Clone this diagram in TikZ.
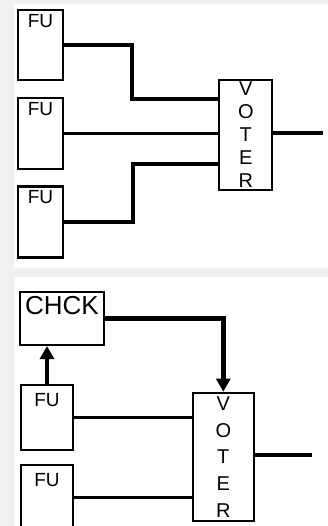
\documentclass[tikz,border=0pt]{standalone}
\usepackage{fontspec}
\setmainfont{Liberation Sans}
\usetikzlibrary{arrows.meta}
\definecolor{bggray}{RGB}{240,240,240}

\begin{document}
\begin{tikzpicture}[x=1pt, y=-1pt, >={Triangle[length=13pt,width=14pt]},
  unit/.style={draw, line width=2.2pt, fill=white, inner sep=0pt},
  fulbl/.style={anchor=north, inner sep=5pt, font=\fontsize{19}{19}\selectfont},
  vlbl/.style={anchor=north, align=center, inner sep=2.5pt, font=\fontsize{20}{23}\selectfont},
  wire/.style={line width=3.6pt},
  flow/.style={line width=4.5pt, ->}]

  % 背景とパネル
  \useasboundingbox (0,0) rectangle (328,526);
  \fill[bggray] (0,0) rectangle (328,526);
  \fill[white] (14,4) rectangle (328,268);
  \fill[white] (14,277) rectangle (328,526);

  % 上段: 3 つの FU と VOTER
  \node[unit, minimum width=45, minimum height=70, label={[fulbl]north:FU}] (fu1) at (40.5,45) {};
  \node[unit, minimum width=45, minimum height=71, label={[fulbl]north:FU}] (fu2) at (40.5,133.5) {};
  \node[unit, minimum width=45, minimum height=71, label={[fulbl]north:FU}] (fu3) at (40.5,222) {};
  \node[unit, minimum width=53, minimum height=109.5,
        label={[vlbl]north:V\\O\\T\\E\\R}] (voter1) at (245.8,135) {};

  \coordinate (in1) at ([yshift=36pt]voter1.west);
  \coordinate (in3) at ([yshift=-29pt]voter1.west);
  \coordinate (out1) at (323,133);

  % 上段の配線
  \draw[wire] (fu1.east) -- ++(68,0) |- (in1);
  \draw[wire] (fu2.east) -- (fu2.east -| voter1.west);
  \draw[wire] (fu3.east) -- ++(69,0) |- (in3);
  \draw[wire] (voter1.east |- out1) -- (out1);

  % 下段: CHCK, FU, VOTER
  \node[unit, minimum width=84, minimum height=53,
        label={[fulbl, inner sep=5.5pt, font=\fontsize{26}{26}\selectfont]north:CHCK}] (chck) at (62,318.5) {};
  \node[unit, minimum width=52, minimum height=65, label={[fulbl, inner sep=9pt]north:FU}] (fu4) at (47,417.5) {};
  \node[unit, minimum width=52, minimum height=65, label={[fulbl, inner sep=9pt]north:FU}] (fu5) at (47,497.5) {};
  \node[unit, minimum width=61, minimum height=128,
        label={[vlbl, inner sep=5pt, font=\fontsize{20}{26.7}\selectfont]north:V\\O\\T\\E\\R}] (voter2) at (223.3,456.7) {};

  \coordinate (out2) at (312,455);

  % 下段の配線と矢印
  \draw[flow] (fu4.north) -- (fu4.north |- chck.south);
  \draw[flow] (chck.east) -| (voter2.north);
  \draw[wire] (fu4.east) -- (fu4.east -| voter2.west);
  \draw[wire] (fu5.east) -- (fu5.east -| voter2.west);
  \draw[wire] (voter2.east |- out2) -- (out2);

\end{tikzpicture}
\end{document}
